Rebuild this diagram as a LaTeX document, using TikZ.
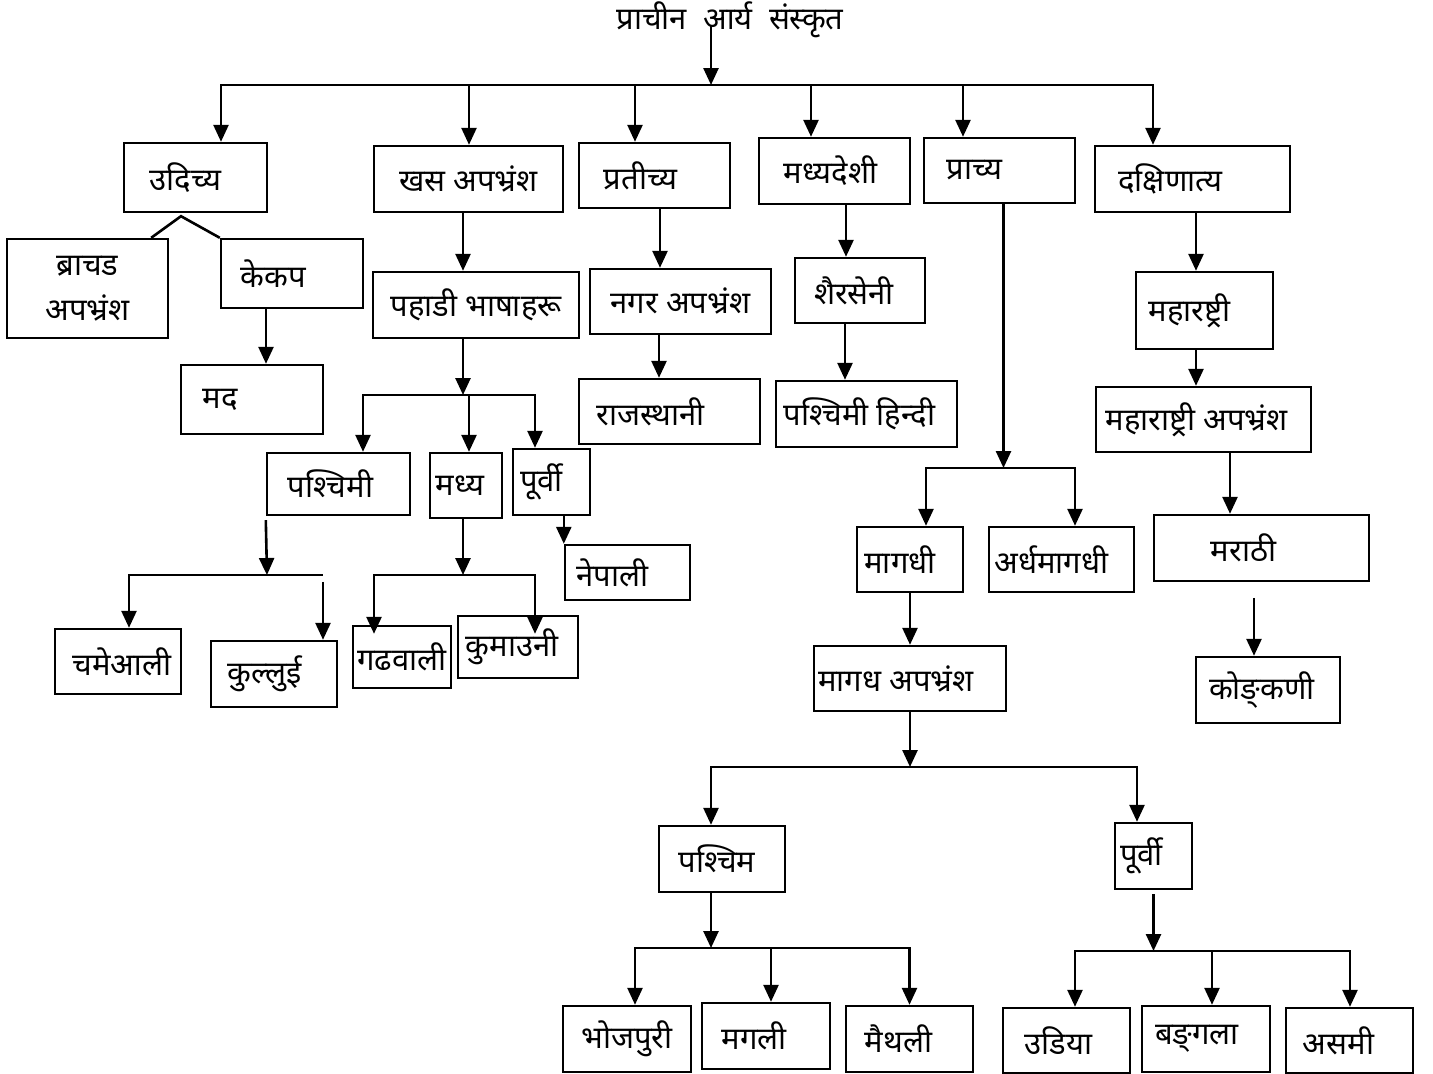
\documentclass[tikz,border=0pt]{standalone}
\usepackage{fontspec}
\newfontfamily\deva[Script=Devanagari]{Noto Sans}
\usetikzlibrary{arrows.meta,positioning}
\tikzset{
  box/.style={draw, line width=2.4pt, inner sep=0pt, align=center,
    font=\deva\fontsize{31}{37}\selectfont},
  arr/.style={line width=2.6pt, -{Triangle[width=15pt,length=17pt]}},
  ln/.style={line width=2.6pt},
}
\begin{document}
\begin{tikzpicture}[x=1pt,y=-1pt]
\useasboundingbox (0,0) rectangle (1433,1074);

\node[font=\deva\fontsize{31}{37}\selectfont] (title) at (730,20) {प्राचीन \ आर्य \ संस्कृत};

\node[box, minimum width=143pt, minimum height=69pt] (udichya) at (195.5,177.5) {उदिच्य\hspace*{20pt}};
\node[box, minimum width=189pt, minimum height=66pt] (khas) at (468.5,179) {खस अपभ्रंश};
\node[box, minimum width=151pt, minimum height=65pt] (pratichya) at (654.5,175.5) {प्रतीच्य\hspace*{28pt}};
\node[box, minimum width=151pt, minimum height=66pt] (madhyadeshi) at (834.5,171) {मध्यदेशी\hspace*{8pt}};
\node[box, minimum width=151pt, minimum height=65pt] (prachya) at (999.5,170.5) {प्राच्य\hspace*{50pt}};
\node[box, minimum width=195pt, minimum height=66pt] (dakshin) at (1192.5,179) {दक्षिणात्य\hspace*{44pt}};

\node[box, minimum width=161pt, minimum height=99pt] (brachad) at (87.5,288.5) {ब्राचड\\[8pt]अपभ्रंश};
\node[box, minimum width=142pt, minimum height=69pt] (kekap) at (292,273.5) {केकप\hspace*{38pt}};
\node[box, minimum width=142pt, minimum height=69pt] (mad) at (252,399.5) {मद\hspace*{64pt}};
\node[box, minimum width=206pt, minimum height=66pt] (pahadi) at (476,305) {पहाडी भाषाहरू};
\node[box, minimum width=181pt, minimum height=65pt] (nagar) at (680.5,301.5) {नगर अपभ्रंश};
\node[box, minimum width=181pt, minimum height=65pt] (rajasthani) at (669.5,411.5) {राजस्थानी\hspace*{38pt}};
\node[box, minimum width=130pt, minimum height=65pt] (shaurseni) at (860,290.5) {शैरसेनी\hspace*{12pt}};
\node[box, minimum width=181pt, minimum height=66pt] (westhindi) at (866.5,414) {पश्चिमी हिन्दी\hspace*{14pt}};
\node[box, minimum width=137pt, minimum height=77pt] (maharashtri) at (1204.5,310.5) {महारष्ट्री\hspace*{30pt}};
\node[box, minimum width=215pt, minimum height=65pt] (maharapa) at (1203.5,419.5) {महाराष्ट्री अपभ्रंश\hspace*{14pt}};
\node[box, minimum width=215pt, minimum height=66pt] (marathi) at (1261.5,548) {मराठी\hspace*{36pt}};
\node[box, minimum width=144pt, minimum height=66pt] (konkani) at (1268,690) {कोङ्‌कणी\hspace*{12pt}};

\node[box, minimum width=143pt, minimum height=62pt] (pashchimi) at (338.5,484) {पश्चिमी\hspace*{16pt}};
\node[box, minimum width=72pt, minimum height=65pt] (madhya) at (466,485.5) {मध्य\hspace*{12pt}};
\node[box, minimum width=77pt, minimum height=66pt] (purvi) at (551.5,482) {पूर्वी\hspace*{20pt}};
\node[box, minimum width=125pt, minimum height=55pt] (nepali) at (627.5,572.5) {नेपाली\hspace*{30pt}};
\node[box, minimum width=126pt, minimum height=65pt] (chameali) at (118,661.5) {\hspace*{8pt}चमेआली};
\node[box, minimum width=126pt, minimum height=66pt] (kullui) at (274,674) {कुल्लुई\hspace*{18pt}};
\node[box, minimum width=98pt, minimum height=62pt] (garhwali) at (402,657) {गढवाली};
\node[box, minimum width=120pt, minimum height=62pt] (kumauni) at (518,647) {कुमाउनी\hspace*{12pt}};

\node[box, minimum width=106pt, minimum height=65pt] (magadhi) at (910,559.5) {मागधी\hspace*{20pt}};
\node[box, minimum width=145pt, minimum height=65pt] (ardha) at (1061.5,559.5) {अर्धमागधी\hspace*{20pt}};
\node[box, minimum width=192pt, minimum height=65pt] (magadhapa) at (910,678.5) {मागध अपभ्रंश\hspace*{28pt}};
\node[box, minimum width=126pt, minimum height=66pt] (pashchim) at (722,859) {पश्चिम\hspace*{10pt}};
\node[box, minimum width=77pt, minimum height=66pt] (purvib) at (1153.5,856) {पूर्वी\hspace*{24pt}};
\node[box, minimum width=128pt, minimum height=66pt] (bhojpuri) at (627,1039) {भोजपुरी};
\node[box, minimum width=128pt, minimum height=66pt] (magali) at (766,1036) {मगली\hspace*{24pt}};
\node[box, minimum width=127pt, minimum height=66pt] (maithali) at (909.5,1039) {मैथली\hspace*{22pt}};
\node[box, minimum width=127pt, minimum height=65pt] (udiya) at (1066.5,1040.5) {उडिया\hspace*{16pt}};
\node[box, minimum width=128pt, minimum height=66pt] (bangla) at (1206,1039) {बङ्‌गला\hspace*{18pt}};
\node[box, minimum width=127pt, minimum height=65pt] (asami) at (1349.5,1040.5) {असमी\hspace*{22pt}};

\coordinate (top) at (711,85);
\coordinate (pahadij) at (463,395);
\coordinate (westj) at (267,575);
\coordinate (madhyaj) at (463,575);
\coordinate (prachyaj) at (1003.5,468);
\coordinate (magadhj) at (910,767);
\coordinate (pashchimj) at (711,948);
\coordinate (purvij) at (1153.5,951);

\draw[arr] ([xshift=-19pt,yshift=-5pt]title.center) -- (top);
\draw[arr] (top) -| ([xshift=25.5pt]udichya.north);
\draw[arr] (top) -| ([xshift=0.5pt]khas.north);
\draw[arr] (top) -| ([xshift=-19.5pt]pratichya.north);
\draw[arr] (top) -| ([xshift=-23.5pt]madhyadeshi.north);
\draw[arr] (top) -| ([xshift=-36.5pt]prachya.north);
\draw[arr] (top) -| ([xshift=-39.5pt]dakshin.north);

\draw[ln] ([xshift=-18pt]brachad.north east) -- ([xshift=-14.5pt,yshift=-3pt]udichya.south) -- (kekap.north west);
\draw[arr] ([xshift=-26pt]kekap.south) -- ([xshift=-26pt]kekap.south |- mad.north);

\draw[arr] ([xshift=-5.5pt]khas.south) -- ([xshift=-5.5pt]khas.south |- pahadi.north);
\draw[arr] ([xshift=-13pt]pahadi.south) -- (pahadij);
\draw[arr] (pahadij) -| ([xshift=24.5pt]pashchimi.north);
\draw[arr] (pahadij) -| ([xshift=3pt]madhya.north);
\draw[arr] (pahadij) -| ([xshift=-16.5pt]purvi.north);

\draw[arr] ([yshift=-4pt]pashchimi.south west) -- (westj);
\draw[arr] (westj) -| ([xshift=11pt]chameali.north);
\draw[ln] (westj) -- ([xshift=49pt]kullui.north |- westj);
\draw[arr] ([xshift=49pt,yshift=58pt]kullui.north) -- ([xshift=49pt]kullui.north);

\draw[arr] ([xshift=-3pt]madhya.south) -- (madhyaj);
\draw[arr] (madhyaj) -| ([xshift=-28pt,yshift=-9pt]garhwali.north);
\draw[arr] (madhyaj) -| ([xshift=17pt,yshift=-19pt]kumauni.north);

\draw[arr] (nepali.north west |- purvi.south) -- (nepali.north west);

\draw[arr] ([xshift=5.5pt]pratichya.south) -- ([xshift=5.5pt]pratichya.south |- nagar.north);
\draw[arr] ([xshift=-21.5pt]nagar.south) -- ([xshift=-21.5pt]nagar.south |- rajasthani.north);

\draw[arr] ([xshift=11.5pt]madhyadeshi.south) -- ([xshift=11.5pt]madhyadeshi.south |- shaurseni.north);
\draw[arr] ([xshift=-15pt]shaurseni.south) -- ([xshift=-15pt]shaurseni.south |- westhindi.north);

\draw[arr] ([xshift=4pt]prachya.south) -- (prachyaj);
\draw[arr] (prachyaj) -| ([xshift=16pt]magadhi.north);
\draw[arr] (prachyaj) -| ([xshift=13.5pt]ardha.north);
\draw[arr] (magadhi.south) -- (magadhapa.north);

\draw[arr] (magadhapa.south) -- (magadhj);
\draw[arr] (magadhj) -| ([xshift=-11pt]pashchim.north);
\draw[arr] (magadhj) -| ([xshift=-16.5pt]purvib.north);

\draw[arr] ([xshift=-11pt]pashchim.south) -- (pashchimj);
\draw[arr] (pashchimj) -| ([xshift=8pt]bhojpuri.north);
\draw[arr] (pashchimj) -| ([xshift=5pt]magali.north);
\draw[arr] (pashchimj) -| (maithali.north);

\draw[arr] ([yshift=-4pt]purvib.south) -- (purvij);
\draw[arr] (purvij) -| ([xshift=8.5pt]udiya.north);
\draw[arr] (purvij) -| ([xshift=6pt]bangla.north);
\draw[arr] (purvij) -| ([xshift=0.5pt]asami.north);

\draw[arr] ([xshift=3.5pt]dakshin.south) -- ([xshift=3.5pt]dakshin.south |- maharashtri.north);
\draw[arr] ([xshift=-8.5pt]maharashtri.south) -- ([xshift=-8.5pt]maharashtri.south |- maharapa.north);
\draw[arr] ([xshift=26.5pt]maharapa.south) -- ([xshift=26.5pt]maharapa.south |- marathi.north);
\draw[arr] ([xshift=-14pt,yshift=58pt]konkani.north) -- ([xshift=-14pt]konkani.north);
\end{tikzpicture}
\end{document}
